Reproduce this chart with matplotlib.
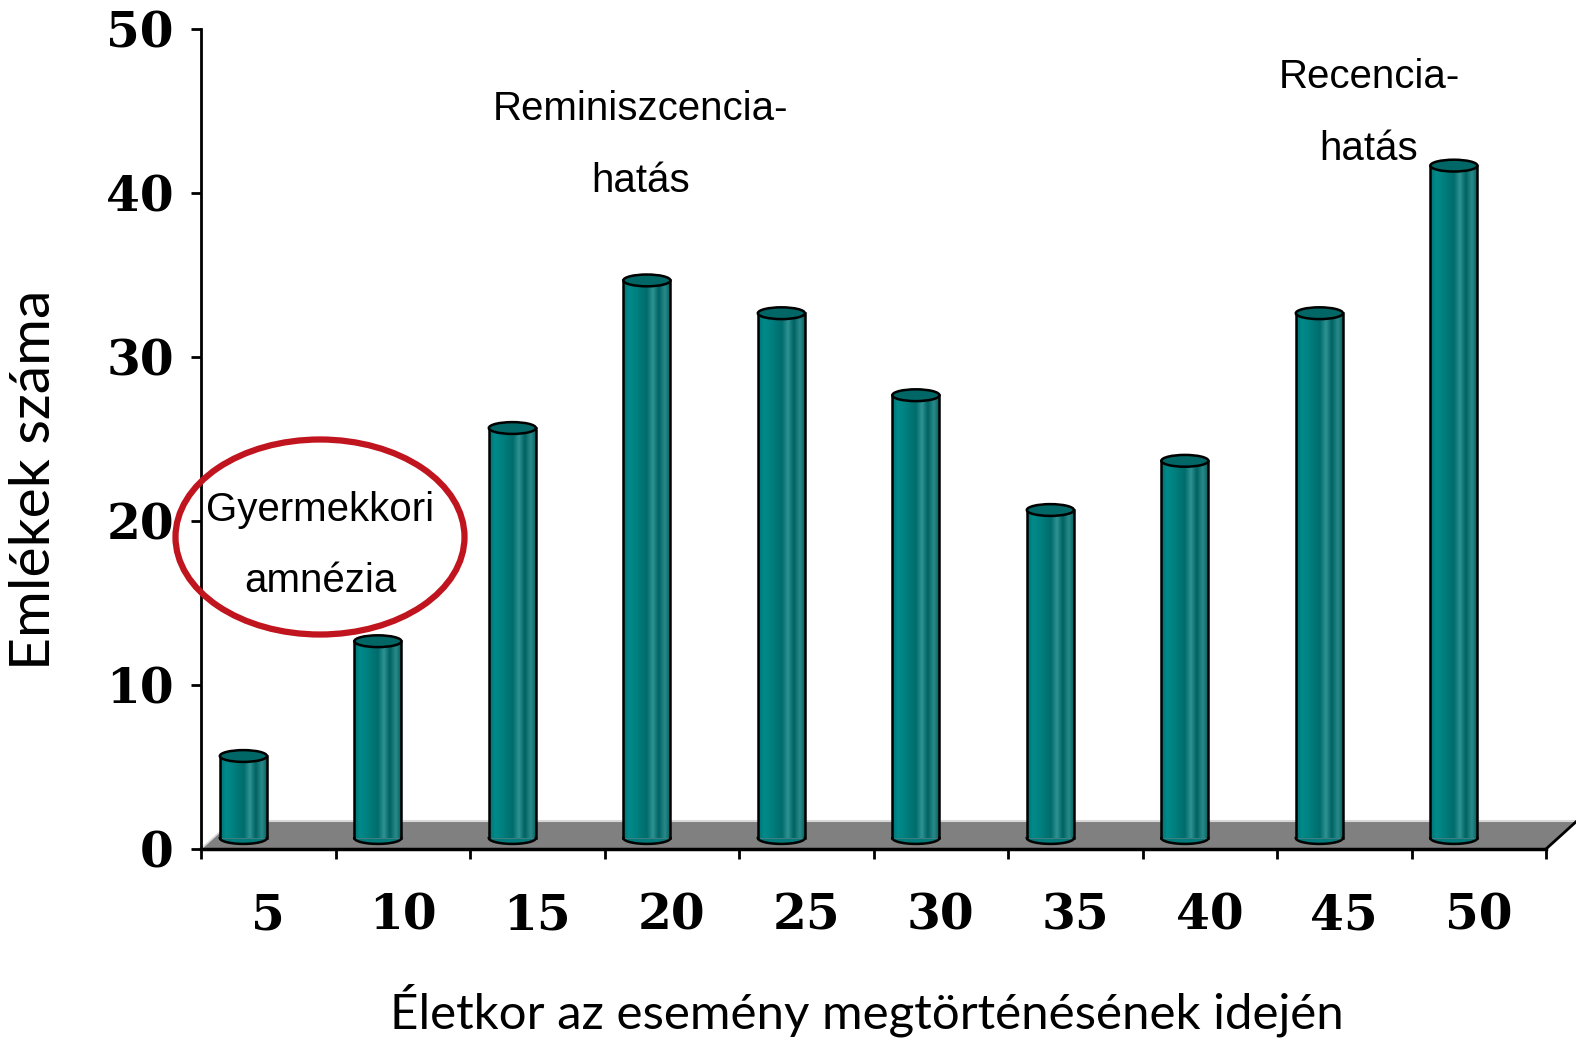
import numpy as np
import matplotlib
matplotlib.use("Agg")
import matplotlib.pyplot as plt
from matplotlib.patches import Ellipse, Polygon
from matplotlib.colors import LinearSegmentedColormap

# data
ages = ['5', '10', '15', '20', '25', '30', '35', '40', '45', '50']
memories = [5, 12, 25, 34, 32, 27, 20, 23, 32, 41]
y_ticks = [0, 10, 20, 30, 40, 50]

W, H = 1576, 1039
fig = plt.figure(figsize=(W / 100, H / 100), dpi=100)
ax = fig.add_axes([201 / W, (H - 849) / H, (1546 - 201) / W, (849 - 29) / H])
ax.set_xlim(0, len(ages))
ax.set_ylim(0, 50)

# 3d look offsets (data units)
lift = 0.67
depth_x, depth_y = 0.23, 1.71
bw = 0.35
eh = 0.72

# floor
floor = Polygon([(0, 0), (len(ages), 0), (len(ages) + depth_x, depth_y), (depth_x, depth_y)],
                closed=True, facecolor='#808080', edgecolor='none', clip_on=False, zorder=1)
ax.add_patch(floor)
ax.plot([depth_x, len(ages) + depth_x + 0.2], [depth_y, depth_y], color='#d8d8d8', lw=1.5,
        clip_on=False, zorder=1.1)
ax.plot([0, depth_x], [0, depth_y], color='#d8d8d8', lw=1.2, clip_on=False, zorder=1.1)
ax.plot([len(ages), len(ages) + depth_x], [0, depth_y], color='black', lw=2, clip_on=False, zorder=1.1)

cmap = LinearSegmentedColormap.from_list('cyl', ['#007272', '#008a8a', '#008282', '#007676',
                                                 '#006c6c', '#2f9393', '#006262', '#2a8a8a', '#005c5c'])
grad = np.linspace(0, 1, 200).reshape(1, -1)

for i, v in enumerate(memories):
    xc = i + 0.315
    x0, x1 = xc - bw / 2, xc + bw / 2
    top = v + lift
    ax.imshow(grad, cmap=cmap, extent=[x0, x1, lift, top], aspect='auto', zorder=2,
              interpolation='bilinear')
    # bottom rounded part
    t = np.linspace(np.pi, 2 * np.pi, 40)
    bx = xc + bw / 2 * np.cos(t)
    by = lift + eh / 2 * np.sin(t)
    ax.fill_between(bx, by, lift, color='#007a7a', zorder=2.1, lw=0)
    ax.plot(bx, by, color='black', lw=1.8, zorder=3)
    ax.plot([x0, x0], [lift, top], color='black', lw=1.8, zorder=3)
    ax.plot([x1, x1], [lift, top], color='black', lw=1.8, zorder=3)
    ax.add_patch(Ellipse((xc, top), bw, eh, facecolor='#006666', edgecolor='black',
                         lw=1.8, zorder=4))

# axes styling
for s in ['top', 'right']:
    ax.spines[s].set_visible(False)
ax.spines['left'].set_linewidth(2)
ax.spines['bottom'].set_linewidth(2.5)
ax.spines['bottom'].set_zorder(5)
ax.set_xticks(np.arange(len(ages) + 1))
ax.set_xticklabels([])
ax.set_xticks(np.arange(len(ages)) + 0.5, minor=True)
ax.set_xticklabels(ages, minor=True, fontfamily='DejaVu Serif', fontweight='bold', fontsize=35)
ax.tick_params(axis='x', which='major', direction='out', length=7.5, width=2)
ax.tick_params(axis='x', which='minor', length=0, pad=31)
ax.set_yticks(y_ticks)
ax.set_yticklabels([str(t) for t in y_ticks], fontfamily='DejaVu Serif', fontweight='bold',
                   fontsize=35)
ax.tick_params(axis='y', direction='out', length=7.5, width=2, pad=12)

fig.text(867 / W, 1 - 1010 / H, 'Életkor az esemény megtörténésének idején',
         ha='center', va='center', fontfamily='Lato', fontsize=35.5)
fig.text(35 / W, 1 - 480 / H, 'Emlékek száma', rotation=90,
         ha='center', va='center', fontfamily='Lato', fontsize=41)

# annotations
ann = dict(ha='center', va='center', fontfamily='Liberation Sans', fontsize=29)
fig.text(641 / W, 1 - 109 / H, 'Reminiszcencia-', **ann)
fig.text(641 / W, 1 - 181 / H, 'hatás', **ann)
fig.text(1369 / W, 1 - 77 / H, 'Recencia-', **ann)
fig.text(1369 / W, 1 - 149 / H, 'hatás', **ann)
fig.text(320 / W, 1 - 510 / H, 'Gyermekkori', **ann)
fig.text(320 / W, 1 - 581 / H, 'amnézia', **ann)

ell = Ellipse((320 / W, 1 - 537 / H), 289 / W, 195 / H, transform=fig.transFigure,
              facecolor='none', edgecolor='#c0141e', lw=4.5, zorder=10)
fig.patches.append(ell)

fig.savefig('out.png', dpi=100)
